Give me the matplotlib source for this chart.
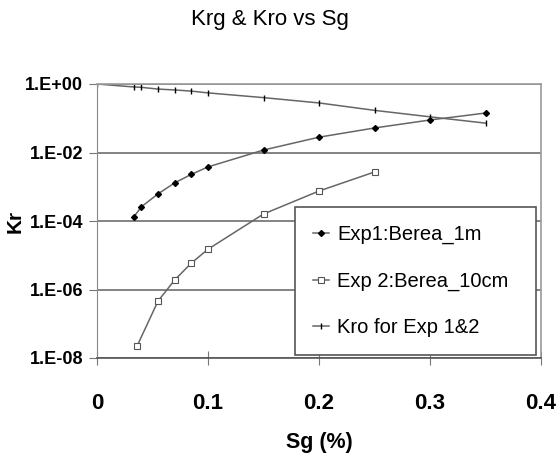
import matplotlib
matplotlib.use("Agg")
import matplotlib.pyplot as plt
from matplotlib.ticker import FixedLocator, NullLocator

# ---- data ----
x_kro = [0, 0.033, 0.04, 0.055, 0.07, 0.085, 0.1, 0.15, 0.2, 0.25, 0.3, 0.35]
kro = [1.0, 0.82, 0.80, 0.71, 0.67, 0.62, 0.55, 0.40, 0.28, 0.17, 0.11, 0.072]

x_exp1 = [0.033, 0.04, 0.055, 0.07, 0.085, 0.1, 0.15, 0.2, 0.25, 0.3, 0.35]
krg_exp1 = [1.3e-4, 2.6e-4, 6.2e-4, 1.3e-3, 2.3e-3, 3.8e-3, 0.0118, 0.028, 0.052, 0.089, 0.142]

x_exp2 = [0.036, 0.055, 0.07, 0.085, 0.1, 0.15, 0.2, 0.25]
krg_exp2 = [2.2e-8, 4.6e-7, 1.9e-6, 5.9e-6, 1.5e-5, 1.6e-4, 7.5e-4, 2.7e-3]

y_ticks = [1e0, 1e-2, 1e-4, 1e-6, 1e-8]
y_tick_labels = ["1.E+00", "1.E-02", "1.E-04", "1.E-06", "1.E-08"]
x_ticks = [0, 0.1, 0.2, 0.3, 0.4]
x_tick_labels = ["0", "0.1", "0.2", "0.3", "0.4"]

title = "Krg & Kro vs Sg"
xlabel = "Sg (%)"
ylabel = "Kr"
labels = ["Exp1:Berea_1m", "Exp 2:Berea_10cm", "Kro for Exp 1&2"]

fam = ["Liberation Sans Narrow", "Liberation Sans", "DejaVu Sans"]
plt.rcParams["font.family"] = fam

fig = plt.figure(figsize=(5.57, 4.62), dpi=100)
ax = fig.add_axes([97 / 557, 1 - 358 / 462, 444 / 557, 274 / 462])

lc = "#666666"
l1, = ax.plot(x_exp1, krg_exp1, color=lc, lw=1.1, marker="D", ms=3,
              mfc="black", mec="black")
l2, = ax.plot(x_exp2, krg_exp2, color=lc, lw=1.1, marker="s", ms=4,
              mfc="white", mec="#555555", mew=0.8)
l3, = ax.plot(x_kro, kro, color=lc, lw=1.1, marker="|", ms=5,
              mec="black", mew=1.0)

ax.set_yscale("log")
ax.set_ylim(1e-8, 1e0)
ax.set_xlim(0, 0.4)
ax.yaxis.set_major_locator(FixedLocator(y_ticks))
ax.yaxis.set_minor_locator(NullLocator())
ax.set_yticklabels(y_tick_labels)
ax.set_xticks(x_ticks)
ax.set_xticklabels(x_tick_labels)

for y in y_ticks:
    ax.axhline(y, color="#7a7a7a", lw=1.3, zorder=0)

for s in ["top", "right"]:
    ax.spines[s].set_color("#9a9a9a")
    ax.spines[s].set_linewidth(1.2)
ax.spines["left"].set_color("#8a8a8a")
ax.spines["bottom"].set_color("#555555")
ax.spines["bottom"].set_linewidth(1.2)

ax.tick_params(axis="y", direction="out", length=6, color="#777777",
               labelsize=13, pad=4)
ax.tick_params(axis="x", direction="inout", length=10, color="#777777",
               labelsize=16, pad=20)
for t in ax.get_yticklabels() + ax.get_xticklabels():
    t.set_fontweight("bold")

ax.set_xlabel(xlabel, fontsize=15.5, fontweight="bold", labelpad=13)
ax.set_ylabel(ylabel, fontsize=15, fontweight="bold", labelpad=0)
fig.text(270 / 557, 1 - 20 / 462, title, ha="center", va="center",
         fontsize=16)

x0 = (295 - 97) / 444
w = (536 - 295) / 444
y0 = (358 - 352) / 274
h = (352 - 207) / 274
leg = ax.legend([l1, l2, l3], labels, loc="upper left",
                bbox_to_anchor=(x0, y0, w, h), mode="expand",
                fontsize=14.5, frameon=True, fancybox=False,
                edgecolor="#555555", handlelength=0.8, handletextpad=0.4,
                labelspacing=1.35, borderpad=0.9, borderaxespad=0,
                markerscale=1.0)
leg.get_frame().set_linewidth(1.2)
leg.get_frame().set_facecolor("white")
leg.get_frame().set_alpha(1)

fig.savefig("out.png", dpi=100)
